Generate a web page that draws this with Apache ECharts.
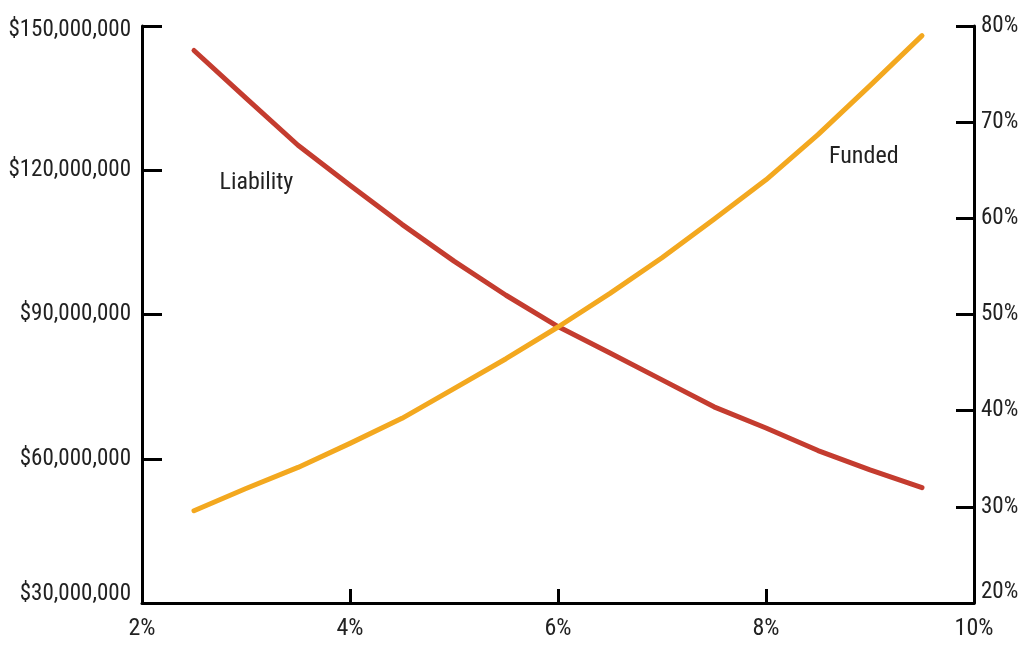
<!DOCTYPE html>
<html>
<head>
<meta charset="utf-8">
<script src="https://cdn.jsdelivr.net/npm/echarts@6/dist/echarts.min.js"></script>
<style>
html,body{margin:0;padding:0;background:#fff;}
#chart{width:1024px;height:645px;}
</style>
</head>
<body>
<div id="chart"></div>
<script>
// Discount rate (%)
const rates = [2.5, 3.0, 3.5, 4.0, 4.5, 5.0, 5.5, 6.0, 6.5, 7.0, 7.5, 8.0, 8.5, 9.0, 9.5];
// Liability ($)
const liability = [144900000, 135000000, 125200000, 116900000, 108750000, 101100000, 94000000, 87500000, 82000000, 76400000, 70800000, 66400000, 61700000, 57700000, 54000000];
// Funded ratio (%)
const funded = [29.6, 31.9, 34.1, 36.6, 39.2, 42.3, 45.4, 48.7, 52.2, 55.9, 59.9, 64.0, 68.7, 73.8, 79.0];
// Axis ranges
const xTicks = {min: 2, max: 10, interval: 2};
const leftTicks = {min: 30000000, max: 150000000, interval: 30000000};
const rightTicks = {min: 20, max: 80, interval: 10};
// Annotation labels
const seriesNames = ['Liability', 'Funded'];
const labelPos = {Liability: [3.1, 117300000], Funded: [8.94, 66.4]};

const FONT = '"Liberation Sans Narrow", "Roboto Condensed", "DejaVu Sans Condensed", sans-serif';
const TXT = '#222';
const base = {fontFamily: FONT, fontSize: 23, color: TXT};
const lblStyle = Object.assign({}, base, {
  rich: {
    up: Object.assign({}, base, {padding: [0, 0, 18, 0]}),
    upMore: Object.assign({}, base, {padding: [0, 0, 22, 0]}),
    down: Object.assign({}, base, {padding: [9, 0, 0, 0]})
  }
});

const chart = echarts.init(document.getElementById('chart'), null, {renderer: 'canvas'});

function pairs(xs, ys) { return xs.map((x, i) => [x, ys[i]]); }

function mark(name) {
  return {
    symbol: 'circle',
    symbolSize: 2,
    silent: true,
    itemStyle: {color: 'rgba(0,0,0,0)'},
    label: {show: true, position: 'inside', fontFamily: FONT, fontSize: 24, color: TXT, formatter: name},
    data: [{coord: labelPos[name]}]
  };
}

function leftFmt(v) {
  const s = '$' + v.toLocaleString('en-US');
  if (v === leftTicks.min) return '{up|' + s + '}';
  if (v === leftTicks.max) return '{down|' + s + '}';
  return s;
}
function rightFmt(v) {
  const s = v + '%';
  if (v === rightTicks.min) return '{upMore|' + s + '}';
  return s;
}

chart.setOption({
  animation: false,
  backgroundColor: '#fff',
  grid: {left: 142, right: 50, top: 26, bottom: 42, containLabel: false, outerBoundsMode: 'none'},
  xAxis: {
    type: 'value', min: xTicks.min, max: xTicks.max, interval: xTicks.interval,
    axisLine: {show: true, lineStyle: {color: '#000', width: 3}},
    axisTick: {show: true, inside: true, length: 14, lineStyle: {color: '#000', width: 3}},
    axisLabel: Object.assign({}, base, {formatter: '{value}%', margin: 14, fontSize: 24}),
    splitLine: {show: false}
  },
  yAxis: [{
    type: 'value', position: 'left', min: leftTicks.min, max: leftTicks.max, interval: leftTicks.interval,
    axisLine: {show: true, lineStyle: {color: '#000', width: 3}},
    axisTick: {show: true, inside: true, length: 20, lineStyle: {color: '#000', width: 3}},
    axisLabel: Object.assign({formatter: leftFmt, margin: 11}, lblStyle),
    splitLine: {show: false}
  }, {
    type: 'value', position: 'right', min: rightTicks.min, max: rightTicks.max, interval: rightTicks.interval,
    axisLine: {show: true, lineStyle: {color: '#000', width: 3}},
    axisTick: {show: true, inside: true, length: 18, lineStyle: {color: '#000', width: 3}},
    axisLabel: Object.assign({formatter: rightFmt, margin: 7}, lblStyle),
    splitLine: {show: false}
  }],
  series: [{
    name: seriesNames[0], type: 'line', yAxisIndex: 0,
    data: pairs(rates, liability),
    showSymbol: false, symbol: 'none',
    lineStyle: {color: '#C43C2F', width: 5, cap: 'round', join: 'round'},
    itemStyle: {color: '#C43C2F'},
    markPoint: mark('Liability')
  }, {
    name: seriesNames[1], type: 'line', yAxisIndex: 1,
    data: pairs(rates, funded),
    showSymbol: false, symbol: 'none',
    lineStyle: {color: '#F3A81F', width: 5, cap: 'round', join: 'round'},
    itemStyle: {color: '#F3A81F'},
    markPoint: mark('Funded')
  }]
});
</script>
</body>
</html>
